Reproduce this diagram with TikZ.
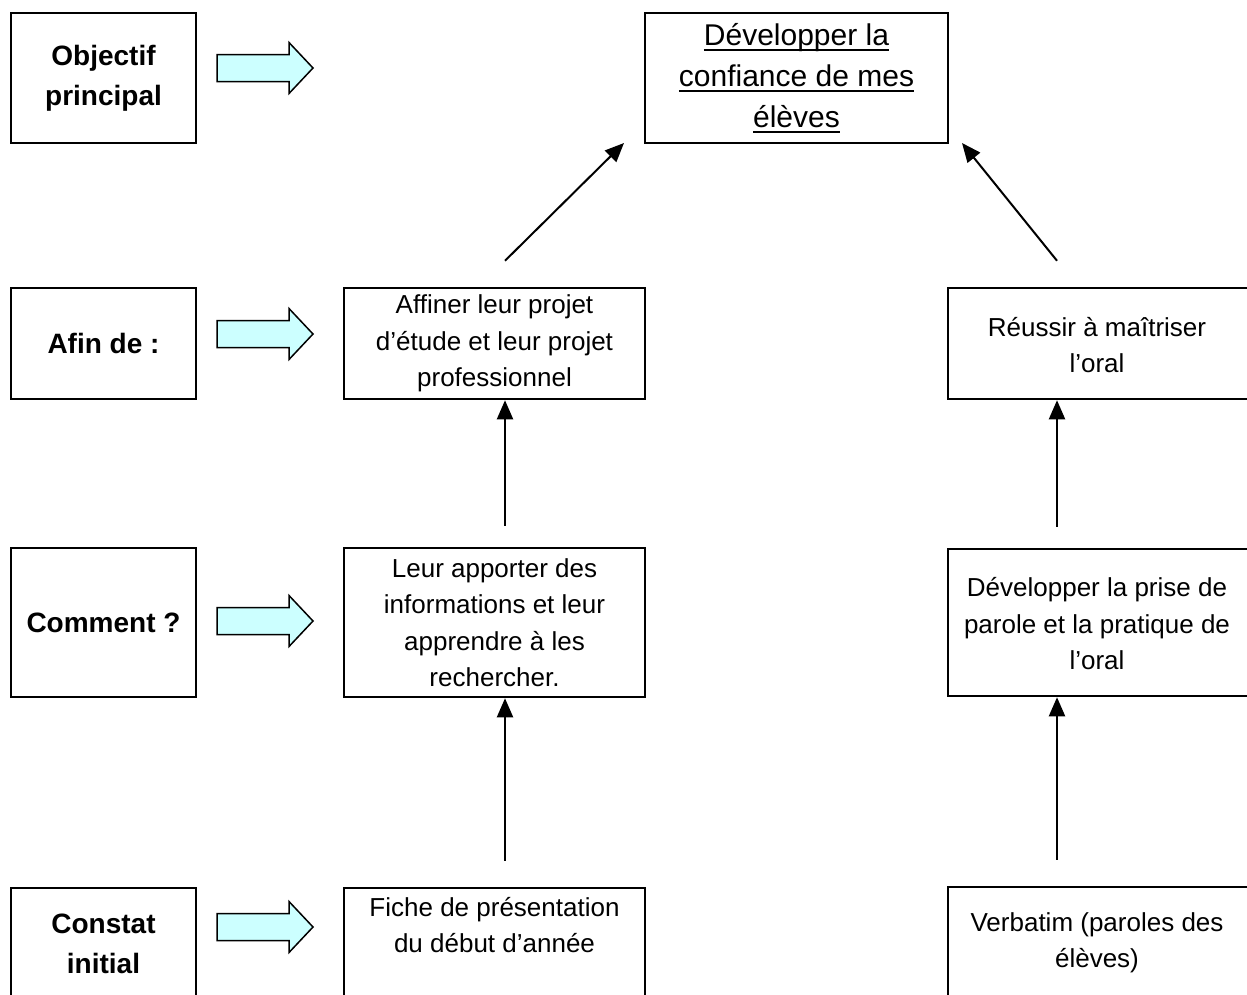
\documentclass[tikz,border=0pt]{standalone}
\usepackage{fontspec}
\setmainfont{Liberation Sans}
\usetikzlibrary{arrows.meta}
\definecolor{cyanlt}{HTML}{CCFFFF}
\newcommand\myul[1]{\setbox0\hbox{#1}\rlap{\rule[-5.5pt]{\wd0}{2pt}}\box0}
\begin{document}
\begin{tikzpicture}[x=1pt,y=-1pt,
  box/.style={draw, line width=2.5pt, inner sep=0pt, align=center, font=\fontsize{26}{36.5}\selectfont},
  lbl/.style={box, minimum width=185pt, font=\fontsize{28}{40}\selectfont\bfseries},
  txt/.style={align=center, inner sep=0pt, font=\fontsize{26}{36.5}\selectfont},
  arr/.style={line width=2pt, -{Triangle[length=19pt,width=16pt]}},
  barrow/.pic={\draw[fill=cyanlt, line width=1.5pt, line join=miter]
     (-48,-13.5) -- (24,-13.5) -- (24,-25.5) -- (48,0) -- (24,25.5) -- (24,13.5) -- (-48,13.5) -- cycle;}]
\useasboundingbox (0,0) rectangle (1247,994);
\clip (0,0) rectangle (1247,994);
\fill[white] (0,0) rectangle (1247,994);

% left labels
\node[lbl, minimum height=130pt] (obj) at (103.5,78) {Objectif\\principal};
\node[lbl, minimum height=111pt] (afin) at (103.5,343.5) {Afin de :};
\node[lbl, minimum height=149pt] (comm) at (103.5,622.5) {Comment ?};
\node[lbl, minimum height=112pt] (const) at (103.5,944) {Constat\\initial};

% block arrows
\pic (ba1) at (265,68) {barrow};
\pic (ba2) at (265,334) {barrow};
\pic (ba3) at (265,621) {barrow};
\pic (ba4) at (265,927) {barrow};

% top goal
\node[box, minimum width=303pt, minimum height=130pt, font=\fontsize{30}{41}\selectfont] (top) at (796.5,78)
  {\myul{Développer la}\\\myul{confiance de mes}\\\myul{élèves}};

% left column
\node[box, minimum width=301pt, minimum height=111pt] (aff) at (494.5,343.5)
  {Affiner leur projet\\d’étude et leur projet\\professionnel};
\node[box, minimum width=301pt, minimum height=149pt] (leur) at (494.5,622.5)
  {Leur apporter des\\informations et leur\\apprendre à les\\rechercher.};
\node[box, minimum width=301pt, minimum height=112pt] (fiche) at (494.5,944) {};
\node[txt] (fichet) at (494.5,925) {Fiche de présentation\\du début d’année};

% right column
\node[box, minimum width=314pt, minimum height=111pt] (reus) at (1105,343.5) {};
\node[txt] (reust) at (1097,345) {Réussir à maîtriser\\l’oral};
\node[box, minimum width=314pt, minimum height=147pt] (dev) at (1105,622.5) {};
\node[txt] (devt) at (1097,624) {Développer la prise de\\parole et la pratique de\\l’oral};
\node[box, minimum width=314pt, minimum height=113pt] (verb) at (1105,943.5) {};
\node[txt] (verbt) at (1097,943) {Verbatim (paroles des\\élèves)};

% connector helpers
\coordinate (xl) at (505,0);
\coordinate (xr) at (1057,0);
\coordinate (tipl) at (624,143);
\coordinate (tipr) at (962,143);
\path (aff.north -| xl) ++(0,-26) coordinate (taill);
\path (reus.north -| xr) ++(0,-26) coordinate (tailr);

\draw[arr, shorten <=21pt] (leur.north -| xl) -- (aff.south -| xl);
\draw[arr, shorten <=26pt] (fiche.north -| xl) -- (leur.south -| xl);
\draw[arr, shorten <=21pt] (dev.north -| xr) -- (reus.south -| xr);
\draw[arr, shorten <=26pt] (verb.north -| xr) -- (dev.south -| xr);
\draw[arr] (taill) -- (tipl);
\draw[arr] (tailr) -- (tipr);
\end{tikzpicture}
\end{document}
